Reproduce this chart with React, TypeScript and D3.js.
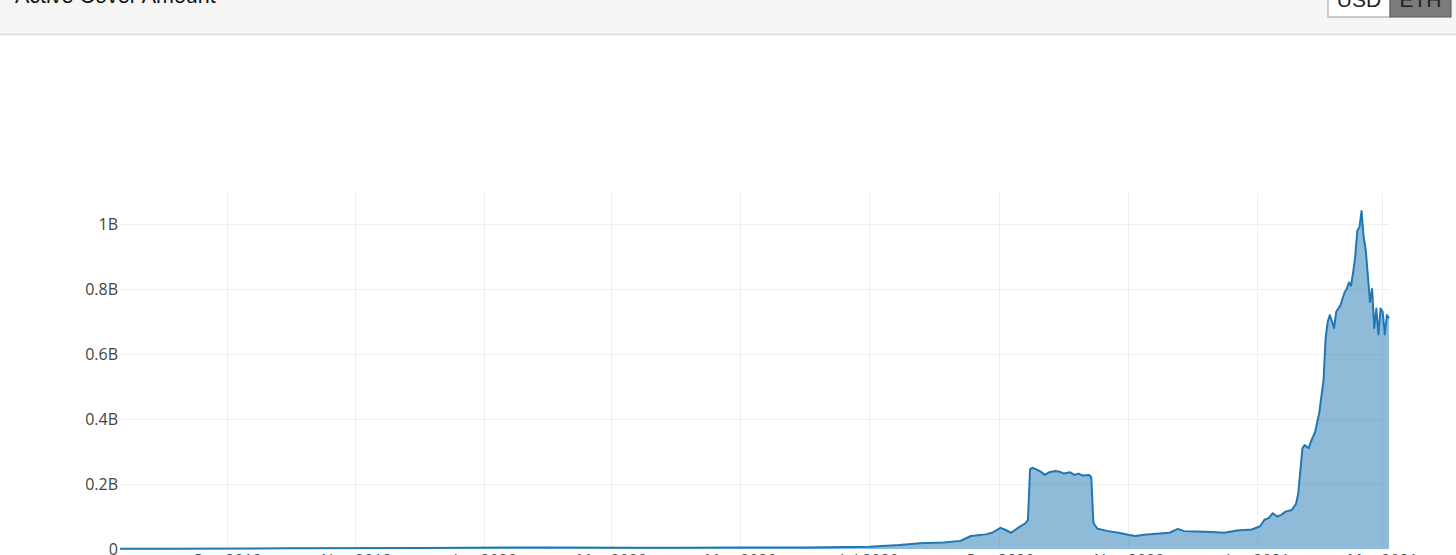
import React from "react";
import * as d3 from "d3";

// ---- Data (values in billions USD) ----
const dates: string[] = [
  "2019-07-12", "2019-08-04", "2019-10-01", "2019-12-01", "2020-02-01", "2020-03-12",
  "2020-04-01", "2020-05-01", "2020-06-01", "2020-07-01", "2020-07-15", "2020-07-25",
  "2020-08-05", "2020-08-13", "2020-08-18", "2020-08-25", "2020-08-28", "2020-09-01",
  "2020-09-03", "2020-09-06", "2020-09-10", "2020-09-13", "2020-09-14", "2020-09-15",
  "2020-09-16", "2020-09-18", "2020-09-20", "2020-09-22", "2020-09-24", "2020-09-27",
  "2020-09-29", "2020-10-01", "2020-10-04", "2020-10-06", "2020-10-08", "2020-10-10",
  "2020-10-13", "2020-10-14", "2020-10-15", "2020-10-17", "2020-10-22", "2020-10-27",
  "2020-11-01", "2020-11-04", "2020-11-08", "2020-11-14", "2020-11-20", "2020-11-24",
  "2020-11-27", "2020-12-03", "2020-12-10", "2020-12-16", "2020-12-22", "2020-12-29",
  "2021-01-02", "2021-01-04", "2021-01-06", "2021-01-08", "2021-01-10", "2021-01-12",
  "2021-01-14", "2021-01-17", "2021-01-19", "2021-01-20", "2021-01-21", "2021-01-22",
  "2021-01-23", "2021-01-25", "2021-01-26", "2021-01-28", "2021-01-30", "2021-02-01",
  "2021-02-02", "2021-02-03", "2021-02-04", "2021-02-05", "2021-02-06", "2021-02-07",
  "2021-02-08", "2021-02-09", "2021-02-10", "2021-02-11", "2021-02-12", "2021-02-13",
  "2021-02-14", "2021-02-15", "2021-02-16", "2021-02-17", "2021-02-18", "2021-02-19",
  "2021-02-20", "2021-02-21", "2021-02-22", "2021-02-23", "2021-02-24", "2021-02-25",
  "2021-02-26", "2021-02-27", "2021-02-28", "2021-03-01", "2021-03-02", "2021-03-03",
  "2021-03-04",
];

const coverBn: number[] = [
  0.0005, 0.001, 0.002, 0.003, 0.005, 0.004,
  0.004, 0.005, 0.005, 0.007, 0.012, 0.018,
  0.02, 0.025, 0.04, 0.045, 0.05, 0.065,
  0.06, 0.05, 0.068, 0.08, 0.09, 0.245,
  0.25, 0.245, 0.238, 0.228, 0.236, 0.24,
  0.238, 0.232, 0.236, 0.228, 0.232, 0.226,
  0.228, 0.22, 0.08, 0.062, 0.055, 0.05,
  0.043, 0.04, 0.044, 0.047, 0.05, 0.062,
  0.055, 0.054, 0.052, 0.05, 0.057, 0.06,
  0.07, 0.09, 0.095, 0.11, 0.1, 0.105,
  0.115, 0.12, 0.14, 0.17, 0.24, 0.31,
  0.32, 0.31, 0.33, 0.36, 0.42, 0.52,
  0.65, 0.7, 0.72, 0.7, 0.68, 0.73,
  0.74, 0.75, 0.77, 0.79, 0.8, 0.82,
  0.81, 0.85, 0.9, 0.98, 0.99, 1.04,
  0.96, 0.92, 0.84, 0.76, 0.8, 0.68,
  0.74, 0.66, 0.74, 0.73, 0.66, 0.72,
  0.71,
];

const xTickDates: string[] = [
  "2019-09-01", "2019-11-01", "2020-01-01", "2020-03-01", "2020-05-01",
  "2020-07-01", "2020-09-01", "2020-11-01", "2021-01-01", "2021-03-01",
];
const xTickLabels: string[] = [
  "Sep 2019", "Nov 2019", "Jan 2020", "Mar 2020", "May 2020",
  "Jul 2020", "Sep 2020", "Nov 2020", "Jan 2021", "Mar 2021",
];
const yTickValues: number[] = [0, 0.2, 0.4, 0.6, 0.8, 1];
const yTickLabels: string[] = ["0", "0.2B", "0.4B", "0.6B", "0.8B", "1B"];

const title = "Active Cover Amount";
const buttons = ["USD", "ETH"];

const W = 1456;
const H = 555;
const plot = { left: 120, right: 1389, top: 193, bottom: 549 };

export default function App() {
  const parse = d3.utcParse("%Y-%m-%d");
  const pts = dates.map((d, i) => ({ date: parse(d) as Date, v: coverBn[i] }));

  const x = d3
    .scaleUtc()
    .domain(d3.extent(pts, (p) => p.date) as [Date, Date])
    .range([plot.left, plot.right]);
  const y = d3.scaleLinear().domain([0, 1.0954]).range([plot.bottom, plot.top]);

  const area = d3
    .area<{ date: Date; v: number }>()
    .x((p) => x(p.date))
    .y0(y(0))
    .y1((p) => y(p.v));
  const line = d3
    .line<{ date: Date; v: number }>()
    .x((p) => x(p.date))
    .y((p) => y(p.v));

  const font = "'Open Sans', 'Liberation Sans', Arial, sans-serif";
  const hFont = "'Liberation Sans', Arial, Helvetica, sans-serif";

  return (
    <svg
      width={W}
      height={H}
      style={{ position: "absolute", left: 0, top: 0, background: "#fff" }}
    >
      {/* header band */}
      <rect x={0} y={0} width={W} height={34} fill="#f5f5f5" />
      <line x1={0} x2={W} y1={34.5} y2={34.5} stroke="#dcdcdc" strokeWidth={1.5} />
      <text x={15} y={3} fontFamily={hFont} fontSize={21.5} fill="#111">
        {title}
      </text>
      <rect x={1328} y={-5} width={62} height={22} fill="#fff" stroke="#999" strokeWidth={1} />
      <rect x={1390} y={-5} width={61} height={22} fill="#7b7b7b" stroke="#555" strokeWidth={1} />
      <text x={1359} y={7} textAnchor="middle" fontFamily={hFont} fontSize={21} fill="#222">
        {buttons[0]}
      </text>
      <text x={1420.5} y={7} textAnchor="middle" fontFamily={hFont} fontSize={21} fill="#222">
        {buttons[1]}
      </text>

      {/* vertical gridlines */}
      {xTickDates.map((d) => {
        const xx = Math.round(x(parse(d) as Date)) - 0.5;
        return (
          <line key={d} x1={xx} x2={xx} y1={plot.top} y2={plot.bottom} stroke="#eee" strokeWidth={1} />
        );
      })}
      {/* horizontal gridlines */}
      {yTickValues.slice(1).map((v) => {
        const yy = Math.round(y(v)) + 0.5;
        return (
          <line key={v} x1={plot.left} x2={plot.right} y1={yy} y2={yy} stroke="#eee" strokeWidth={1} />
        );
      })}

      {/* data */}
      <path d={area(pts) as string} fill="rgba(31,119,180,0.5)" />
      <path d={line(pts) as string} fill="none" stroke="#1f77b4" strokeWidth={2} strokeLinejoin="round" />

      {/* y tick labels */}
      {yTickValues.map((v, i) => (
        <text
          key={v}
          x={118}
          y={y(v)}
          dy="0.36em"
          textAnchor="end"
          fontFamily={font}
          fontSize={16}
          fill="#444"
        >
          {yTickLabels[i]}
        </text>
      ))}
      {/* x tick labels */}
      {xTickDates.map((d, i) => (
        <text
          key={d}
          x={x(parse(d) as Date)}
          y={566}
          textAnchor="middle"
          fontFamily={font}
          fontSize={16}
          fill="#444"
        >
          {xTickLabels[i]}
        </text>
      ))}
    </svg>
  );
}
